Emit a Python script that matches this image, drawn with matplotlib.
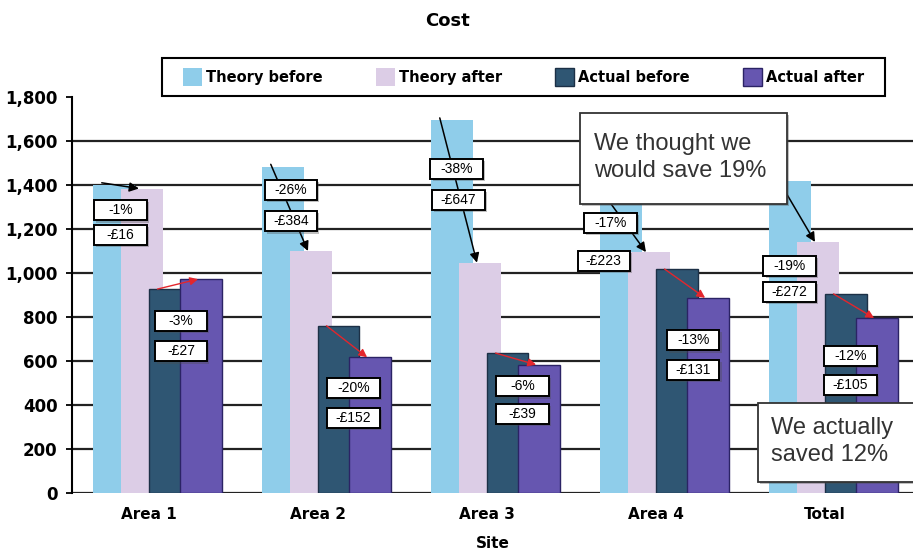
import numpy as np
import matplotlib
matplotlib.use('Agg')
import matplotlib.pyplot as plt
from matplotlib.patches import Rectangle
import matplotlib.patheffects as pe

# data
sites = ['Area 1', 'Area 2', 'Area 3', 'Area 4', 'Total']
theory_before = [1400, 1484, 1695, 1318, 1418]
theory_after = [1384, 1100, 1047, 1095, 1141]
actual_before = [927, 760, 636, 1018, 905]
actual_after = [972, 617, 583, 887, 795]

theory_pct = ['-1%', '-26%', '-38%', '-17%', '-19%']
theory_gbp = ['-£16', '-£384', '-£647', '-£223', '-£272']
actual_pct = ['-3%', '-20%', '-6%', '-13%', '-12%']
actual_gbp = ['-£27', '-£152', '-£39', '-£131', '-£105']

yticks = list(range(0, 1801, 200))

# where the little tags sit (offset from site centre, height)
theory_pct_pos = [(-0.17, 1286), (-0.16, 1377), (-0.18, 1473), (-0.27, 1227), (-0.21, 1032)]
theory_gbp_pos = [(-0.17, 1173), (-0.16, 1236), (-0.17, 1332), (-0.31, 1055), (-0.21, 914)]
actual_pct_pos = [(0.19, 782), (0.21, 477), (0.21, 486), (0.22, 695), (0.15, 623)]
actual_gbp_pos = [(0.19, 645), (0.21, 341), (0.21, 359), (0.22, 559), (0.15, 491)]

colors = ['#8fcdea', '#dccde6', '#2f5673', '#6656b0']
edges = ['none', 'none', '#1c3046', '#2b2365']

plt.rcParams['font.family'] = 'DejaVu Sans'

fig = plt.figure(figsize=(9.13, 5.53), dpi=100)
ax = fig.add_axes([72 / 913, 1 - 493 / 553, 1 - 72 / 913, 396 / 553])

x = np.arange(len(sites))
w = 0.245
offsets = [-0.33, -0.165, 0.0, 0.185]
series = [theory_before, theory_after, actual_before, actual_after]
names = ['Theory before', 'Theory after', 'Actual before', 'Actual after']

for i in range(4):
    ax.bar(x + offsets[i], series[i], width=w, align='edge', color=colors[i],
           edgecolor=edges[i], linewidth=1.0, label=names[i], zorder=2)

xmin, xmax = -0.456, 4.52
ax.set_xlim(xmin, xmax)
ax.set_ylim(0, 1800)
ax.hlines(yticks[:-1], xmin, xmax, colors='#222222', linewidth=1.6, zorder=0.5)

ax.set_yticks(yticks)
ax.set_yticklabels([f'{v:,}' for v in yticks], fontweight='bold', fontsize=12)
ax.set_xticks(x)
ax.set_xticklabels(sites, fontweight='bold', fontsize=11)
ax.tick_params(axis='y', direction='out', length=4.5, width=1.3, pad=6)
ax.tick_params(axis='x', length=0, pad=10)
for s in ['top', 'right', 'bottom']:
    ax.spines[s].set_visible(False)
ax.spines['left'].set_linewidth(1.5)
ax.set_xlabel('Site', fontweight='bold', fontsize=11, labelpad=10)

fig.text(0.49, 0.962, 'Cost', ha='center', va='center', fontweight='bold', fontsize=13)

# arrows from before to after
for i in range(len(sites)):
    ax.annotate('', xy=(x[i] - 0.06, theory_after[i]), xytext=(x[i] - 0.28, theory_before[i] + 10),
                arrowprops=dict(arrowstyle='-|>', color='black', lw=1.1, mutation_scale=14,
                                shrinkA=0, shrinkB=0), zorder=5)
    ax.annotate('', xy=(x[i] + 0.29, actual_after[i]), xytext=(x[i] + 0.05, actual_before[i]),
                arrowprops=dict(arrowstyle='-|>', color='#e3262d', lw=1.0, mutation_scale=12,
                                shrinkA=0, shrinkB=0), zorder=5)

shadow = [pe.SimplePatchShadow(offset=(1.5, -1.5), alpha=0.35), pe.Normal()]


def tag(cx, cy, s):
    ax.add_patch(Rectangle((cx - 0.155, cy - 47), 0.31, 94, facecolor='white', edgecolor='black',
                           linewidth=1.4, zorder=6, path_effects=shadow))
    ax.text(cx, cy, s, ha='center', va='center', fontsize=10, family='Liberation Sans', zorder=7)


for i in range(len(sites)):
    tag(x[i] + theory_pct_pos[i][0], theory_pct_pos[i][1], theory_pct[i])
    tag(x[i] + theory_gbp_pos[i][0], theory_gbp_pos[i][1], theory_gbp[i])
    tag(x[i] + actual_pct_pos[i][0], actual_pct_pos[i][1], actual_pct[i])
    tag(x[i] + actual_gbp_pos[i][0], actual_gbp_pos[i][1], actual_gbp[i])

# callout boxes
ax.add_patch(Rectangle((2.55, 1314), 1.225, 413, facecolor='white', edgecolor='#333333',
                       linewidth=1.3, zorder=8, path_effects=shadow))
ax.text(2.63, 1527, 'We thought we\nwould save 19%', ha='left', va='center', fontsize=17,
        family='Liberation Sans', color='#333333', linespacing=1.3, zorder=9)
ax.add_patch(Rectangle((3.60, 50), 0.95, 359, facecolor='white', edgecolor='#333333',
                       linewidth=1.3, zorder=8, path_effects=shadow))
ax.text(3.68, 236, 'We actually\nsaved 12%', ha='left', va='center', fontsize=17,
        family='Liberation Sans', color='#333333', linespacing=1.3, zorder=9)

# legend: entries spread inside a separately drawn frame
leg = ax.legend(ncol=4, loc='center', bbox_to_anchor=(0.132, 1.0, 0.81, 0.101),
                mode='expand', frameon=False, prop=dict(weight='bold', size=10.5),
                handlelength=1.3, handleheight=1.5, handletextpad=0.3,
                borderaxespad=0, borderpad=0)
ax.add_patch(Rectangle((0.107, 1.0025), 0.86, 0.096, transform=ax.transAxes, facecolor='none',
                       edgecolor='black', linewidth=1.5, clip_on=False, zorder=10))

fig.savefig('out.png', dpi=100)
